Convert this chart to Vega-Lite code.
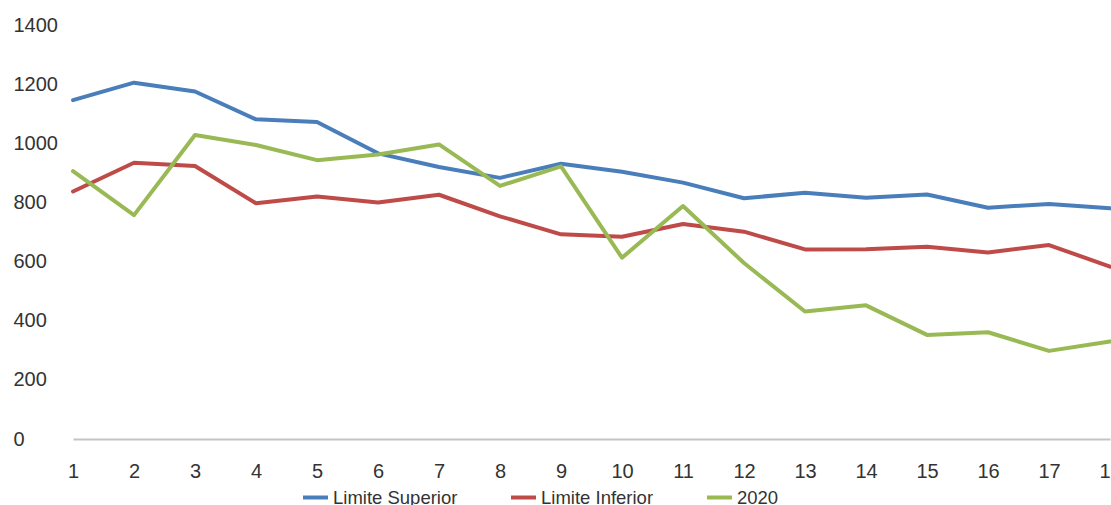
{
  "$schema": "https://vega.github.io/schema/vega-lite/v6.json",
  "width": 1037,
  "height": 414,
  "autosize": {"type": "none"},
  "padding": {"left": 73, "top": 25, "right": 1, "bottom": 66},
  "background": "white",
  "config": {
    "view": {"stroke": null},
    "font": "Liberation Sans"
  },
  "data": {
    "values": [
      {"t": 1, "serie": "Limite Superior", "valor": 1146},
      {"t": 2, "serie": "Limite Superior", "valor": 1205},
      {"t": 3, "serie": "Limite Superior", "valor": 1175},
      {"t": 4, "serie": "Limite Superior", "valor": 1081},
      {"t": 5, "serie": "Limite Superior", "valor": 1072},
      {"t": 6, "serie": "Limite Superior", "valor": 966},
      {"t": 7, "serie": "Limite Superior", "valor": 920},
      {"t": 8, "serie": "Limite Superior", "valor": 883},
      {"t": 9, "serie": "Limite Superior", "valor": 931},
      {"t": 10, "serie": "Limite Superior", "valor": 904},
      {"t": 11, "serie": "Limite Superior", "valor": 867},
      {"t": 12, "serie": "Limite Superior", "valor": 814},
      {"t": 13, "serie": "Limite Superior", "valor": 833},
      {"t": 14, "serie": "Limite Superior", "valor": 816},
      {"t": 15, "serie": "Limite Superior", "valor": 827},
      {"t": 16, "serie": "Limite Superior", "valor": 782},
      {"t": 17, "serie": "Limite Superior", "valor": 795},
      {"t": 18, "serie": "Limite Superior", "valor": 780},
      {"t": 1, "serie": "Limite Inferior", "valor": 837},
      {"t": 2, "serie": "Limite Inferior", "valor": 934},
      {"t": 3, "serie": "Limite Inferior", "valor": 923},
      {"t": 4, "serie": "Limite Inferior", "valor": 797},
      {"t": 5, "serie": "Limite Inferior", "valor": 820},
      {"t": 6, "serie": "Limite Inferior", "valor": 800},
      {"t": 7, "serie": "Limite Inferior", "valor": 826},
      {"t": 8, "serie": "Limite Inferior", "valor": 753},
      {"t": 9, "serie": "Limite Inferior", "valor": 692},
      {"t": 10, "serie": "Limite Inferior", "valor": 684},
      {"t": 11, "serie": "Limite Inferior", "valor": 727},
      {"t": 12, "serie": "Limite Inferior", "valor": 701},
      {"t": 13, "serie": "Limite Inferior", "valor": 641},
      {"t": 14, "serie": "Limite Inferior", "valor": 642},
      {"t": 15, "serie": "Limite Inferior", "valor": 650},
      {"t": 16, "serie": "Limite Inferior", "valor": 631},
      {"t": 17, "serie": "Limite Inferior", "valor": 656},
      {"t": 18, "serie": "Limite Inferior", "valor": 583},
      {"t": 1, "serie": "2020", "valor": 906},
      {"t": 2, "serie": "2020", "valor": 757},
      {"t": 3, "serie": "2020", "valor": 1028},
      {"t": 4, "serie": "2020", "valor": 994},
      {"t": 5, "serie": "2020", "valor": 943},
      {"t": 6, "serie": "2020", "valor": 962},
      {"t": 7, "serie": "2020", "valor": 996},
      {"t": 8, "serie": "2020", "valor": 856},
      {"t": 9, "serie": "2020", "valor": 922},
      {"t": 10, "serie": "2020", "valor": 613},
      {"t": 11, "serie": "2020", "valor": 788},
      {"t": 12, "serie": "2020", "valor": 595},
      {"t": 13, "serie": "2020", "valor": 431},
      {"t": 14, "serie": "2020", "valor": 452},
      {"t": 15, "serie": "2020", "valor": 352},
      {"t": 16, "serie": "2020", "valor": 361},
      {"t": 17, "serie": "2020", "valor": 298},
      {"t": 18, "serie": "2020", "valor": 330}
    ]
  },
  "mark": {"type": "line", "strokeWidth": 4, "strokeJoin": "round", "strokeCap": "round"},
  "encoding": {
    "x": {
      "field": "t",
      "type": "quantitative",
      "scale": {"domain": [1, 18], "nice": false, "zero": false},
      "axis": {
        "title": null,
        "values": [1, 2, 3, 4, 5, 6, 7, 8, 9, 10, 11, 12, 13, 14, 15, 16, 17, 18],
        "format": "d",
        "grid": false,
        "ticks": false,
        "domainColor": "#c4c4c4",
        "domainWidth": 2,
        "labelFontSize": 20,
        "labelColor": "#333333",
        "labelPadding": 22,
        "labelFlush": false,
        "labelOverlap": false,
        "labelBound": false
      }
    },
    "y": {
      "field": "valor",
      "type": "quantitative",
      "scale": {"domain": [0, 1400], "nice": false},
      "axis": {
        "title": null,
        "values": [0, 200, 400, 600, 800, 1000, 1200, 1400],
        "format": "d",
        "grid": false,
        "ticks": false,
        "domain": false,
        "labelAlign": "left",
        "labelPadding": 60,
        "labelFontSize": 20,
        "labelColor": "#333333"
      }
    },
    "color": {
      "field": "serie",
      "type": "nominal",
      "sort": ["Limite Superior", "Limite Inferior", "2020"],
      "scale": {
        "domain": ["Limite Superior", "Limite Inferior", "2020"],
        "range": ["#4a7ebb", "#be4b48", "#98b954"]
      },
      "legend": {
        "title": null,
        "orient": "none",
        "direction": "horizontal",
        "legendX": 228,
        "legendY": 458,
        "symbolType": "stroke",
        "symbolSize": 625,
        "symbolStrokeWidth": 4,
        "labelFontSize": 18.5,
        "labelColor": "#333333",
        "labelOffset": 3,
        "columnPadding": 45
      }
    }
  }
}
